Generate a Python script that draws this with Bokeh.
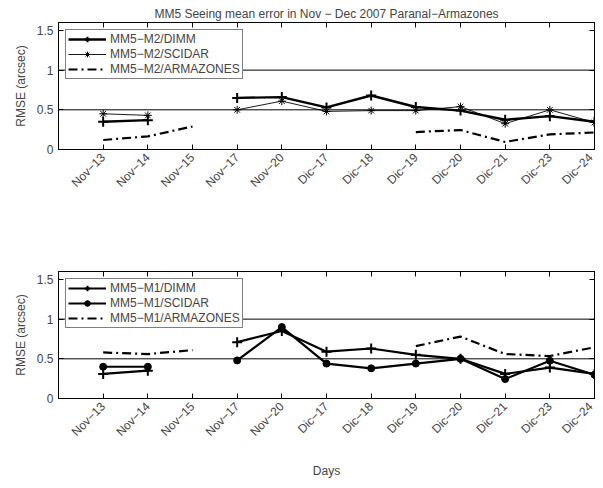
import math
from bokeh.plotting import figure
from bokeh.models import (FixedTicker, LinearAxis, Span, Range1d, Legend,
                          LegendItem, ColumnDataSource)
from bokeh.layouts import column
from bokeh.embed import file_html
from bokeh.resources import INLINE

nan = float("nan")

days = ["Nov−13", "Nov−14", "Nov−15", "Nov−17", "Nov−20", "Dic−17",
        "Dic−18", "Dic−19", "Dic−20", "Dic−21", "Dic−23", "Dic−24"]
day_index = list(range(1, len(days) + 1))

m2_dimm = [0.35, 0.37, nan, 0.65, 0.66, 0.53, 0.68, 0.535, 0.49, 0.375, 0.42, 0.35]
m2_scidar = [0.45, 0.43, nan, 0.50, 0.61, 0.48, 0.49, 0.49, 0.54, 0.325, 0.50, 0.34]
m2_armazones = [0.12, 0.165, 0.29, nan, nan, nan, nan, 0.22, 0.245, 0.095, 0.19, 0.215]

m1_dimm = [0.31, 0.35, nan, 0.71, 0.85, 0.59, 0.63, 0.55, 0.50, 0.31, 0.39, 0.31]
m1_scidar = [0.40, 0.40, nan, 0.48, 0.90, 0.44, 0.38, 0.44, 0.50, 0.245, 0.475, 0.30]
m1_armazones = [0.58, 0.56, 0.61, nan, nan, nan, nan, 0.66, 0.78, 0.56, 0.535, 0.645]

y_ticks = [0, 0.5, 1, 1.5]
y_tick_labels = ["0", "0.5", "1", "1.5"]
ref_levels = [0.5, 1.0]

title_text = "MM5 Seeing mean error in Nov − Dec 2007 Paranal−Armazones"
y_label = "RMSE (arcsec)"
x_label = "Days"

FONT = "Liberation Sans"
FS = "12px"


def make_panel(height, top_border, bottom_border, series, title=None, xlabel=None):
    p = figure(width=595, height=height, output_backend="svg",
               toolbar_location=None, x_range=Range1d(0, 12),
               y_range=Range1d(0, 1.6), min_border_left=58,
               min_border_right=1, min_border_top=top_border,
               min_border_bottom=bottom_border,
               title=title)
    p.background_fill_color = "white"
    p.border_fill_color = "white"
    p.outline_line_color = "black"
    p.outline_line_width = 1
    p.xgrid.visible = False
    p.ygrid.visible = False
    if title:
        p.title.text_font = FONT
        p.title.text_font_size = FS
        p.title.text_font_style = "normal"
        p.title.align = "center"
        p.title.standoff = 4
        p.title.offset = 0

    xa = p.xaxis[0]
    xa.ticker = FixedTicker(ticks=day_index)
    xa.major_label_overrides = {i: d for i, d in zip(day_index, days)}
    xa.major_label_orientation = math.pi / 4
    xa.major_label_text_font = FONT
    xa.major_label_text_font_size = FS
    xa.major_label_standoff = 6
    xa.major_tick_in = 5
    xa.major_tick_out = 0
    xa.minor_tick_line_color = None
    xa.axis_line_color = "black"
    if xlabel:
        xa.axis_label = xlabel
        xa.axis_label_text_font = FONT
        xa.axis_label_text_font_size = FS
        xa.axis_label_text_font_style = "normal"
        xa.axis_label_standoff = 17

    ya = p.yaxis[0]
    ya.ticker = FixedTicker(ticks=y_ticks)
    ya.major_label_overrides = {t: l for t, l in zip(y_ticks, y_tick_labels)}
    ya.major_label_text_font = FONT
    ya.major_label_text_font_size = FS
    ya.major_label_standoff = 5
    ya.major_tick_in = 5
    ya.major_tick_out = 0
    ya.minor_tick_line_color = None
    ya.axis_label = y_label
    ya.axis_label_text_font = FONT
    ya.axis_label_text_font_size = FS
    ya.axis_label_text_font_style = "normal"
    ya.axis_label_standoff = 6

    top = LinearAxis(ticker=FixedTicker(ticks=day_index),
                     major_label_text_font_size="0px",
                     major_label_text_color=None, major_label_standoff=0,
                     major_tick_in=5, major_tick_out=0,
                     minor_tick_line_color=None, axis_line_color="black")
    right = LinearAxis(ticker=FixedTicker(ticks=y_ticks),
                       major_label_text_font_size="0px",
                       major_label_text_color=None, major_label_standoff=0,
                       major_tick_in=5, major_tick_out=0,
                       minor_tick_line_color=None, axis_line_color="black")
    p.add_layout(top, "above")
    p.add_layout(right, "right")

    for lv in ref_levels:
        p.add_layout(Span(location=lv, dimension="width",
                          line_color="black", line_width=1))

    items = []
    for name, vals, lw, marker, msize, mlw, dash in series:
        src = ColumnDataSource(dict(x=day_index, y=vals))
        rs = [p.line("x", "y", source=src, line_color="black",
                     line_width=lw, line_dash=dash)]
        if marker:
            rs.append(p.scatter("x", "y", source=src, marker=marker,
                                size=msize, line_color="black",
                                fill_color="black", line_width=mlw))
        items.append(LegendItem(label=name, renderers=rs))

    leg = Legend(items=items, location="top_left", margin=7, padding=2,
                 spacing=1, label_height=14, glyph_height=14,
                 glyph_width=38, label_standoff=4,
                 label_text_font=FONT, label_text_font_size=FS,
                 border_line_color="black", border_line_width=1,
                 background_fill_color="white", background_fill_alpha=1)
    p.add_layout(leg, "center")
    return p


top_series = [
    ("MM5−M2/DIMM", m2_dimm, 2.4, "cross", 10, 2, "solid"),
    ("MM5−M2/SCIDAR", m2_scidar, 0.9, "asterisk", 8, 1, "solid"),
    ("MM5−M2/ARMAZONES", m2_armazones, 2.2, None, 0, 0, "9 4 2 4"),
]
bottom_series = [
    ("MM5−M1/DIMM", m1_dimm, 2.2, "cross", 10, 2, "solid"),
    ("MM5−M1/SCIDAR", m1_scidar, 2.2, "circle", 7, 1, "solid"),
    ("MM5−M1/ARMAZONES", m1_armazones, 2.2, None, 0, 0, "9 4 2 4"),
]

p1 = make_panel(240, 22, 91, top_series, title=title_text)
p2 = make_panel(240, 31, 82, bottom_series, xlabel=x_label)

layout = column(p1, p2, spacing=0)
open("out.html", "w").write(file_html(layout, INLINE))
